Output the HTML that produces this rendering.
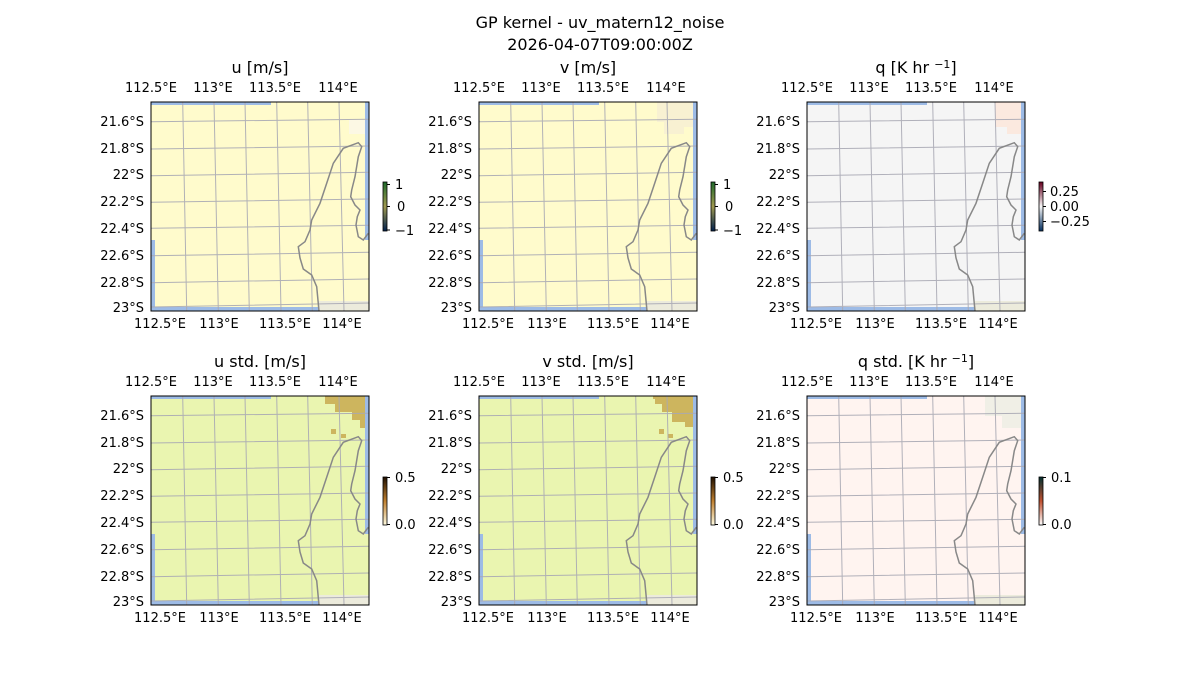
<!DOCTYPE html>
<html><head><meta charset="utf-8"><style>
body{margin:0;background:#fff}
svg{display:block;font-family:"DejaVu Sans","Liberation Sans",sans-serif}
text{font-size:13px;fill:#000}
.t{font-size:16px;text-anchor:middle}
.yl{text-anchor:end}
.xl{text-anchor:middle}
</style></head><body>
<svg width="1200" height="700" viewBox="0 0 1200 700">
<defs>
<g id="ov">
<path d="M0,0H120V3H0Z M214,0H218V138H214Z M0,138H4V209H0Z M0,205H168V209H0Z" fill="#9dbbe6"/>
<rect x="168" y="199" width="50" height="10" fill="#ecebdc"/>
<g stroke="#a9a9b4" stroke-width="1" fill="none" opacity="0.9">
<path d="M31.7,0L35.7,209M63,0L67.3,209M94,0L98.3,209M125.7,0L130,209M156.7,0L161.3,209M188,0L193,209"/>
<path d="M0,19.7L218,17.3M0,47L218,44M0,73.7L218,70.3M0,100.3L218,97M0,126.3L218,123.3M0,153.7L218,150.3M0,180.7L218,177M0,205L218,201"/>
</g>
<path d="M168,209L165.7,184.7L160.7,173L152.3,167L149,156L147.3,144.7L154,139.7L159,128L160.7,118L169,101.3L175.7,81.3L182.3,61.3L192.3,46.3L207.3,40.7L210.7,44.7L207.3,54.7L204,74.7L200.7,88L199.7,94.7L204,103L209,108L206.3,114.7L205,123L207.3,134.7L212.3,138L217.3,131.3" fill="none" stroke="#888" stroke-width="1.5"/>
<rect x="0" y="0" width="218" height="209" fill="none" stroke="#000" stroke-width="1"/>
</g>
<g id="lab">
<text class="xl" x="0" y="-10">112.5°E</text><text class="xl" x="62" y="-10">113°E</text><text class="xl" x="124" y="-10">113.5°E</text><text class="xl" x="187" y="-10">114°E</text>
<text class="xl" x="9" y="226">112.5°E</text><text class="xl" x="68" y="226">113°E</text><text class="xl" x="134" y="226">113.5°E</text><text class="xl" x="191" y="226">114°E</text>
<text class="yl" x="-7" y="24">21.6°S</text><text class="yl" x="-7" y="51">21.8°S</text><text class="yl" x="-7" y="77">22°S</text><text class="yl" x="-7" y="104">22.2°S</text><text class="yl" x="-7" y="131">22.4°S</text><text class="yl" x="-7" y="158">22.6°S</text><text class="yl" x="-7" y="185">22.8°S</text><text class="yl" x="-7" y="210">23°S</text>
</g>
<linearGradient id="gv" x1="0" y1="1" x2="0" y2="0"><stop offset="0" stop-color="#00204c"/><stop offset="0.5" stop-color="#a09a50"/><stop offset="1" stop-color="#1e6a2a"/></linearGradient>
<linearGradient id="gr" x1="0" y1="1" x2="0" y2="0"><stop offset="0" stop-color="#053061"/><stop offset="0.5" stop-color="#f7f7f7"/><stop offset="1" stop-color="#67001f"/></linearGradient>
<linearGradient id="gb" x1="0" y1="1" x2="0" y2="0"><stop offset="0" stop-color="#fffbe0"/><stop offset="0.5" stop-color="#c08030"/><stop offset="1" stop-color="#201000"/></linearGradient>
<linearGradient id="gt" x1="0" y1="1" x2="0" y2="0"><stop offset="0" stop-color="#fff"/><stop offset="0.5" stop-color="#c05030"/><stop offset="1" stop-color="#003030"/></linearGradient>
</defs>
<text class="t" x="600" y="28">GP kernel - uv_matern12_noise</text>
<text class="t" x="600" y="50">2026-04-07T09:00:00Z</text>

<g transform="translate(151,102)">
<rect width="218" height="209" fill="#fffbcc"/><rect x="198" y="18" width="17" height="14" fill="#fcf8e4"/>
<use href="#ov"/><use href="#lab"/><text class="t" x="109" y="-29">u [m/s]</text></g>
<g transform="translate(479,102)">
<rect width="218" height="209" fill="#fffbcc"/><path d="M178,0H215V25H205V32H185V20H178Z" fill="#f8f1d2"/>
<use href="#ov"/><use href="#lab"/><text class="t" x="109" y="-29">v [m/s]</text></g>
<g transform="translate(807,102)">
<rect width="218" height="209" fill="#f5f5f5"/><path d="M188,0H215V32H200V25H188Z" fill="#fbe9df"/>
<use href="#ov"/><use href="#lab"/><text class="t" x="109" y="-29">q [K hr <tspan dy="-5" font-size="11">−1</tspan><tspan dy="5">]</tspan></text></g>

<g transform="translate(151,396)">
<rect width="218" height="209" fill="#eaf5b0"/><path d="M174,0H218V32H209V24H201V16H184V8H174Z" fill="#cdb55e"/><rect x="180" y="33" width="5" height="5" fill="#cdb55e"/><rect x="190" y="38" width="5" height="4" fill="#cdb55e"/>
<use href="#ov"/><use href="#lab"/><text class="t" x="109" y="-29">u std. [m/s]</text></g>
<g transform="translate(479,396)">
<rect width="218" height="209" fill="#eaf5b0"/><path d="M174,0H218V31H206V26H193V16H183V8H176V3H174Z" fill="#cdb55e"/><rect x="180" y="33" width="5" height="5" fill="#cdb55e"/><rect x="189" y="38" width="5" height="4" fill="#cdb55e"/>
<use href="#ov"/><use href="#lab"/><text class="t" x="109" y="-29">v std. [m/s]</text></g>
<g transform="translate(807,396)">
<rect width="218" height="209" fill="#fff4f0"/><path d="M178,0H215V32H195V20H178Z" fill="#f0efe6"/>
<use href="#ov"/><use href="#lab"/><text class="t" x="109" y="-29">q std. [K hr <tspan dy="-5" font-size="11">−1</tspan><tspan dy="5">]</tspan></text></g>

<g>
<rect x="383" y="182" width="4" height="49" fill="url(#gv)" stroke="#000" stroke-width="0.8"/>
<path d="M387,184.5h3M387,206.5h3M387,230h3" stroke="#000"/>
<text x="395" y="189">1</text><text x="397" y="211">0</text><text x="395" y="235">−1</text>
<rect x="711" y="182" width="4" height="49" fill="url(#gv)" stroke="#000" stroke-width="0.8"/>
<path d="M715,184.5h3M715,206.5h3M715,230h3" stroke="#000"/>
<text x="723" y="189">1</text><text x="725" y="211">0</text><text x="723" y="235">−1</text>
<rect x="1039" y="182" width="4" height="49" fill="url(#gr)" stroke="#000" stroke-width="0.8"/>
<path d="M1043,191.5h3M1043,206.5h3M1043,221.5h3" stroke="#000"/>
<text x="1050" y="196">0.25</text><text x="1050" y="211">0.00</text><text x="1050" y="226">−0.25</text>
<rect x="383" y="477" width="4" height="48" fill="url(#gb)" stroke="#000" stroke-width="0.8"/>
<path d="M387,477.5h3M387,524.5h3" stroke="#000"/>
<text x="395" y="482">0.5</text><text x="395" y="529">0.0</text>
<rect x="711" y="477" width="4" height="48" fill="url(#gb)" stroke="#000" stroke-width="0.8"/>
<path d="M715,477.5h3M715,524.5h3" stroke="#000"/>
<text x="723" y="482">0.5</text><text x="723" y="529">0.0</text>
<rect x="1039" y="477" width="4" height="48" fill="url(#gt)" stroke="#000" stroke-width="0.8"/>
<path d="M1043,477.5h3M1043,524.5h3" stroke="#000"/>
<text x="1051" y="482">0.1</text><text x="1051" y="529">0.0</text>
</g>
</svg>
</body></html>
